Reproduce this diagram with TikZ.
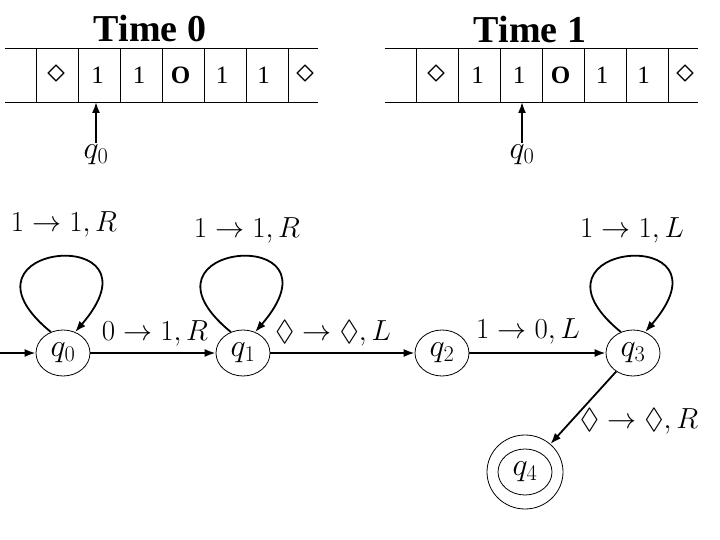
\documentclass[tikz,border=0pt]{standalone}
\usepackage{fix-cm}
\usepackage{amssymb}
\usepackage{fontspec}
\setmainfont{Liberation Serif}
\usepackage{tikz}
\usetikzlibrary{arrows.meta}
\usetikzlibrary{shapes.geometric}
\tikzset{
	>={Latex[length=11pt,width=8pt]}
}

\begin{document}
\begin{tikzpicture}[x=1pt,y=-1pt,
	statenode/.style={draw, ellipse, line width=0.8pt, minimum width=54pt, minimum height=46pt, inner sep=0pt, font=\fontsize{32}{34}\selectfont},
	headlabel/.style={inner sep=2pt, font=\fontsize{32}{34}\selectfont},
	tapesym/.style={inner sep=0pt, font=\fontsize{25}{27}\selectfont},
	trlabel/.style={inner sep=0pt, font=\fontsize{29}{31}\selectfont},
	thickline/.style={line width=1.8pt}]
	%\draw[help lines] (0,0) grid (720,540);
	\useasboundingbox (0,0) rectangle (720,540);

	% the two tapes
	\foreach \x/\t in {0/0,380/1}{
		\draw[line width=0.8pt] (\x+5,48) -- (\x+318,48) (\x+5,102) -- (\x+318,102);
		\foreach \i in {0,...,6}{
			\draw[line width=0.8pt] (\x+36+42*\i,48) -- (\x+36+42*\i,102);
		}
		\foreach \s [count=\i] in {{\fontsize{36}{38}\selectfont$\diamond$},1,1,\textbf{O},1,1,{\fontsize{36}{38}\selectfont$\diamond$}}{
			\node[tapesym] (t\t c\i) at (\x+56+41.5*\i-41.5,75) {\s};
		}
		\node[font=\fontsize{38}{40}\selectfont\bfseries] (time\t) at (\x+150,29) {Time \t};
	}

	% read heads
	\node[headlabel] (h0) at (96,155) {$q_0$};
	\node[headlabel] (h1) at (522,155) {$q_0$};
	\coordinate (p0) at (96,102);
	\coordinate (p1) at (522,102);
	\draw[thickline,->] (h0) -- (p0);
	\draw[thickline,->] (h1) -- (p1);

	% states
	\node[statenode] (q0) at (63,353) {$q_0$};
	\node[statenode] (q1) at (243,353) {$q_1$};
	\node[statenode] (q2) at (442,353) {$q_2$};
	\node[statenode] (q3) at (633,353) {$q_3$};
	\node[statenode, minimum width=76pt, minimum height=74pt] (q4) at (525,472) {};
	\node[statenode] (q4in) at (q4) {$q_4$};

	\coordinate (start) at (0,353);
	\draw[thickline,->] (start) -- (q0);
	\draw[thickline,->] (q0) -- (q1);
	\draw[thickline,->] (q1) -- (q2);
	\draw[thickline,->] (q2) -- (q3);
	\draw[thickline,->] (q3) -- (q4);

	\foreach \s in {q0,q1,q3}{
		\draw[thickline,->] (\s.120) .. controls +(-110,-90) and +(95,-110) .. (\s.60);
	}

	% transitions
	\node[trlabel] (l01) at (155,333) {$0\rightarrow 1, R$};
	\node[trlabel] (l12) at (333,333) {$\lozenge\rightarrow\lozenge, L$};
	\node[trlabel] (l23) at (528,331) {$1\rightarrow 0, L$};
	\node[trlabel] (l00) at (64,224) {$1\rightarrow 1, R$};
	\node[trlabel] (l11) at (247,230) {$1\rightarrow 1, R$};
	\node[trlabel] (l33) at (632,230) {$1\rightarrow 1, L$};
	\node[trlabel] (l34) at (639,421) {$\lozenge\rightarrow\lozenge, R$};

\end{tikzpicture}
\end{document}
